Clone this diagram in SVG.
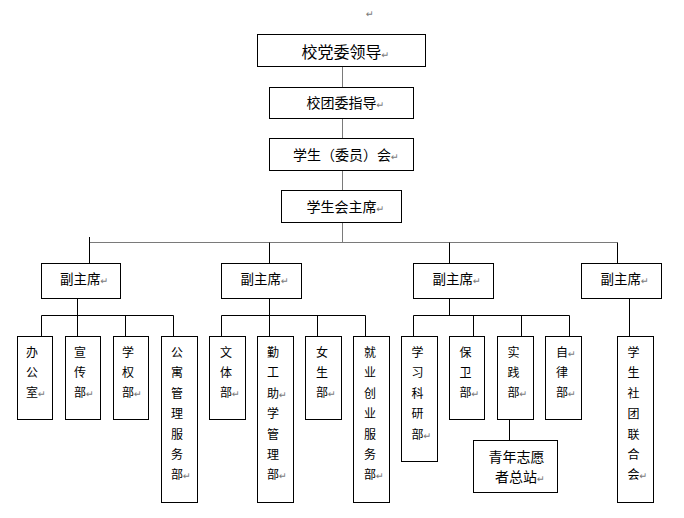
<svg xmlns="http://www.w3.org/2000/svg" width="684" height="518" viewBox="0 0 684 518">
<style>
.box{fill:#fff;stroke:#000;stroke-width:1}
.c{fill:none;stroke:#000;stroke-width:1}
.cg{fill:none;stroke:#7a7a7a;stroke-width:1}
text{font-family:"Noto Sans CJK SC","Noto Sans CJK JP",sans-serif;fill:#000}
.t16{font-size:16px}
.t14{font-size:14px}
.t13{font-size:13.5px}
.t12{font-size:12px}
.pm{font-family:"DejaVu Sans",sans-serif;font-size:9.5px;fill:#7a7a7a}
</style>
<rect width="684" height="518" fill="#fff"/>
<text class="pm" x="366" y="17">↵</text>
<g id="connectors">
<path class="cg" d="M342.5 66.5V87.5M342.5 118.5V138.5M342.5 170.5V190.5M342.5 222.5V242.5"/>
<path class="cg" d="M89.5 242.5H617.5"/>
<path class="c" d="M89.5 237V263.5M269.5 242.5V263.5M449.5 242.5V263.5M617.5 242.5V263.5"/>
<path class="c" d="M77.5 298.5V336.5M269.5 298.5V336.5M449.5 298.5V315.5M629.5 298.5V336.5"/>
<path class="c" d="M41.5 315.5H173.5M41.5 315.5V336.5M125.5 315.5V336.5M173.5 315.5V336.5"/>
<path class="c" d="M221.5 315.5H365.5M221.5 315.5V336.5M317.5 315.5V336.5M365.5 315.5V336.5"/>
<path class="c" d="M413.5 315.5H569.5M413.5 315.5V336.5M473.5 315.5V336.5M521.5 315.5V336.5M569.5 315.5V336.5"/>
<path class="c" d="M509.5 419.5V440.5"/>
</g>
<g id="n-party"><rect class="box" x="257.5" y="34.5" width="168" height="32"/><text class="t16" x="301.5" y="57.5">校党委领导<tspan class="pm">↵</tspan></text></g>
<g id="n-league"><rect class="box" x="269.5" y="87.5" width="144" height="31"/><text class="t14" x="306.5" y="107.5">校团委指导<tspan class="pm">↵</tspan></text></g>
<g id="n-council"><rect class="box" x="269.5" y="138.5" width="144" height="32"/><text class="t14" x="293" y="159.5">学生（委员）会<tspan class="pm">↵</tspan></text></g>
<g id="n-chair"><rect class="box" x="281.5" y="190.5" width="120" height="32"/><text class="t14" x="306.5" y="211.5">学生会主席<tspan class="pm">↵</tspan></text></g>
<g id="n-vice1"><rect class="box" x="41.5" y="263.5" width="79" height="35"/><text class="t13" x="60" y="284">副主席<tspan class="pm">↵</tspan></text></g>
<g id="n-vice2"><rect class="box" x="221.5" y="263.5" width="80" height="35"/><text class="t13" x="240.5" y="284">副主席<tspan class="pm">↵</tspan></text></g>
<g id="n-vice3"><rect class="box" x="413.5" y="263.5" width="80" height="35"/><text class="t13" x="432.5" y="284">副主席<tspan class="pm">↵</tspan></text></g>
<g id="n-vice4"><rect class="box" x="581.5" y="263.5" width="80" height="35"/><text class="t13" x="600.5" y="284">副主席<tspan class="pm">↵</tspan></text></g>
<g id="n-office"><rect class="box" x="17.5" y="336.5" width="35" height="83"/><text class="t12" x="26" y="357">办<tspan x="26" dy="20">公</tspan><tspan x="26" dy="20">室</tspan><tspan class="pm">↵</tspan></text></g>
<g id="n-publicity"><rect class="box" x="65.5" y="336.5" width="35" height="83"/><text class="t12" x="74" y="357">宣<tspan x="74" dy="20">传</tspan><tspan x="74" dy="20">部</tspan><tspan class="pm">↵</tspan></text></g>
<g id="n-rights"><rect class="box" x="113.5" y="336.5" width="35" height="83"/><text class="t12" x="122" y="357">学<tspan x="122" dy="20">权</tspan><tspan x="122" dy="20">部</tspan><tspan class="pm">↵</tspan></text></g>
<g id="n-dorm"><rect class="box" x="161.5" y="336.5" width="36" height="166"/><text class="t12" x="171" y="357">公<tspan x="171" dy="20.4">寓</tspan><tspan x="171" dy="20.4">管</tspan><tspan x="171" dy="20.4">理</tspan><tspan x="171" dy="20.4">服</tspan><tspan x="171" dy="20.4">务</tspan><tspan x="171" dy="20.4">部</tspan><tspan class="pm">↵</tspan></text></g>
<g id="n-sports"><rect class="box" x="209.5" y="336.5" width="36" height="83"/><text class="t12" x="220" y="357">文<tspan x="220" dy="20">体</tspan><tspan x="220" dy="20">部</tspan><tspan class="pm">↵</tspan></text></g>
<g id="n-workstudy"><rect class="box" x="257.5" y="336.5" width="36" height="166"/><text class="t12" x="267" y="357">勤<tspan x="267" dy="20.4">工</tspan><tspan x="267" dy="20.4">助</tspan><tspan class="pm">↵</tspan><tspan x="267" dy="20.4">学</tspan><tspan x="267" dy="20.4">管</tspan><tspan x="267" dy="20.4">理</tspan><tspan x="267" dy="20.4">部</tspan><tspan class="pm">↵</tspan></text></g>
<g id="n-female"><rect class="box" x="305.5" y="336.5" width="36" height="83"/><text class="t12" x="316" y="357">女<tspan x="316" dy="20">生</tspan><tspan x="316" dy="20">部</tspan><tspan class="pm">↵</tspan></text></g>
<g id="n-career"><rect class="box" x="353.5" y="336.5" width="36" height="166"/><text class="t12" x="364" y="357">就<tspan x="364" dy="20.4">业</tspan><tspan x="364" dy="20.4">创</tspan><tspan x="364" dy="20.4">业</tspan><tspan x="364" dy="20.4">服</tspan><tspan x="364" dy="20.4">务</tspan><tspan x="364" dy="20.4">部</tspan><tspan class="pm">↵</tspan></text></g>
<g id="n-study"><rect class="box" x="401.5" y="336.5" width="36" height="125"/><text class="t12" x="411.5" y="357">学<tspan x="411.5" dy="20.4">习</tspan><tspan x="411.5" dy="20.4">科</tspan><tspan x="411.5" dy="20.4">研</tspan><tspan x="411.5" dy="20.4">部</tspan><tspan class="pm">↵</tspan></text></g>
<g id="n-security"><rect class="box" x="449.5" y="336.5" width="35" height="83"/><text class="t12" x="459.5" y="357">保<tspan x="459.5" dy="20">卫</tspan><tspan x="459.5" dy="20">部</tspan><tspan class="pm">↵</tspan></text></g>
<g id="n-practice"><rect class="box" x="497.5" y="336.5" width="36" height="83"/><text class="t12" x="507.5" y="357">实<tspan x="507.5" dy="20">践</tspan><tspan x="507.5" dy="20">部</tspan><tspan class="pm">↵</tspan></text></g>
<g id="n-discipline"><rect class="box" x="545.5" y="336.5" width="36" height="83"/><text class="t12" x="556" y="357">自<tspan class="pm">↵</tspan><tspan x="556" dy="20">律</tspan><tspan x="556" dy="20">部</tspan><tspan class="pm">↵</tspan></text></g>
<g id="n-volunteer"><rect class="box" x="473.5" y="440.5" width="84" height="52"/><text class="t14" x="488.5" y="461.5">青年志愿</text><text class="t14" x="495" y="481.5">者总站<tspan class="pm">↵</tspan></text></g>
<g id="n-clubs"><rect class="box" x="617.5" y="336.5" width="36" height="166"/><text class="t12" x="627.5" y="357">学<tspan x="627.5" dy="20.4">生</tspan><tspan x="627.5" dy="20.4">社</tspan><tspan x="627.5" dy="20.4">团</tspan><tspan x="627.5" dy="20.4">联</tspan><tspan x="627.5" dy="20.4">合</tspan><tspan x="627.5" dy="20.4">会</tspan><tspan class="pm">↵</tspan></text></g>
</svg>
